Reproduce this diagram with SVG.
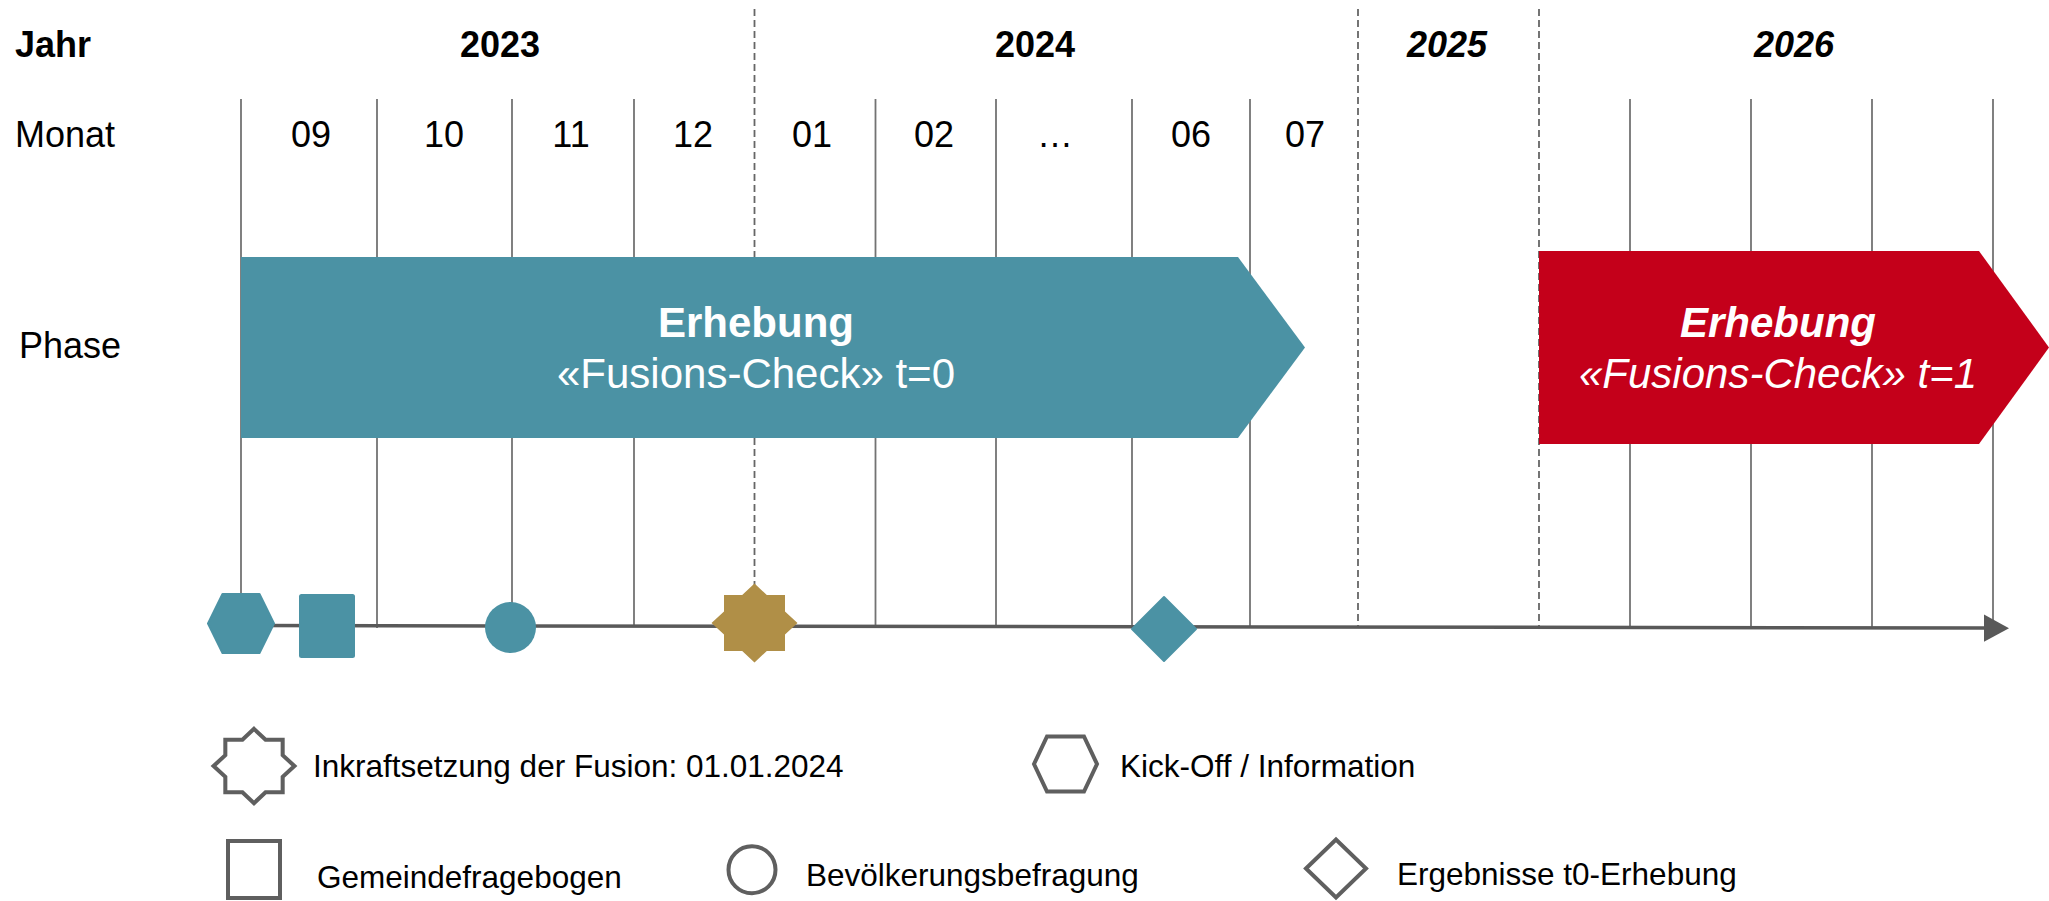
<svg xmlns="http://www.w3.org/2000/svg" width="2049" height="901" viewBox="0 0 2049 901">
<style>
  text { font-family: "Liberation Sans", Arial, sans-serif; fill: #000; }
  .hdr { font-size: 36px; }
  .yr { font-size: 36px; font-weight: bold; text-anchor: middle; }
  .mo { font-size: 36px; text-anchor: middle; }
  .bar { font-size: 42px; fill: #fff; text-anchor: middle; }
  .leg { font-size: 31.5px; }
  .vl { stroke: #737373; stroke-width: 1.8; fill: none; }
  .dl { stroke: #666; stroke-width: 1.8; stroke-dasharray: 7 4; fill: none; }
  .teal { fill: #4B92A4; }
  .lg { fill: #fff; stroke: #5f5f5f; stroke-width: 4; }
</style>
<defs>
  <polygon id="star" points="0,-39.5 12.3,-28 30.5,-28 30.5,-11.5 43,0 30.5,11.5 30.5,28 12.3,28 0,39.5 -12.3,28 -30.5,28 -30.5,11.5 -43,0 -30.5,-11.5 -30.5,-28 -12.3,-28"/>
</defs>

<g id="grid">
  <line class="vl" x1="241" y1="99" x2="241" y2="626"/>
  <line class="vl" x1="377" y1="99" x2="377" y2="628"/>
  <line class="vl" x1="512" y1="99" x2="512" y2="626"/>
  <line class="vl" x1="634" y1="99" x2="634" y2="626"/>
  <line class="vl" x1="875.5" y1="99" x2="875.5" y2="626"/>
  <line class="vl" x1="996" y1="99" x2="996" y2="626"/>
  <line class="vl" x1="1132" y1="99" x2="1132" y2="626"/>
  <line class="vl" x1="1250" y1="99" x2="1250" y2="626"/>
  <line class="vl" x1="1630" y1="99" x2="1630" y2="627"/>
  <line class="vl" x1="1751" y1="99" x2="1751" y2="627"/>
  <line class="vl" x1="1872" y1="99" x2="1872" y2="627"/>
  <line class="vl" x1="1993" y1="99" x2="1993" y2="627"/>
  <line class="dl" x1="754.5" y1="9" x2="754.5" y2="590"/>
  <line class="dl" x1="1358" y1="9" x2="1358" y2="626"/>
  <line class="dl" x1="1539" y1="9" x2="1539" y2="626"/>
</g>

<g id="labels">
  <text class="hdr" x="15" y="57" font-weight="bold">Jahr</text>
  <text class="yr" x="500" y="57">2023</text>
  <text class="yr" x="1035" y="57">2024</text>
  <text class="yr" x="1447" y="57" font-style="italic">2025</text>
  <text class="yr" x="1794" y="57" font-style="italic">2026</text>
  <text class="hdr" x="15" y="147">Monat</text>
  <text class="mo" x="311" y="147">09</text>
  <text class="mo" x="444" y="147">10</text>
  <text class="mo" x="571" y="147">11</text>
  <text class="mo" x="693" y="147">12</text>
  <text class="mo" x="812" y="147">01</text>
  <text class="mo" x="934" y="147">02</text>
  <text class="mo" x="1055" y="147">…</text>
  <text class="mo" x="1191" y="147">06</text>
  <text class="mo" x="1305" y="147">07</text>
  <text class="hdr" x="19" y="358">Phase</text>
</g>

<g id="phase-t0">
  <polygon class="teal" points="241,257 1238,257 1305,347.5 1238,438 241,438"/>
  <text class="bar" x="756" y="337" font-weight="bold">Erhebung</text>
  <text class="bar" x="756" y="388">«Fusions-Check» t=0</text>
</g>

<g id="phase-t1">
  <polygon fill="#C4001A" points="1539,251 1979,251 2049,347.5 1979,444 1539,444"/>
  <text class="bar" x="1778" y="337" font-weight="bold" font-style="italic">Erhebung</text>
  <text class="bar" x="1778" y="388" font-style="italic">«Fusions-Check» t=1</text>
</g>

<g id="connectors">
  <line x1="241" y1="625.5" x2="1986" y2="628" stroke="#595959" stroke-width="3.5"/>
  <polygon points="1984,614.5 2009,628.3 1984,641.7" fill="#595959"/>
</g>

<g id="m-kickoff">
  <polygon class="teal" stroke="#4B92A4" stroke-width="2" stroke-linejoin="round" points="208,623.5 222.5,594 259.5,594 274,623.5 259.5,653 222.5,653"/>
</g>
<g id="m-gemeinde">
  <rect class="teal" x="299" y="594" width="56" height="64" rx="2.5"/>
</g>
<g id="m-bevoelkerung">
  <circle class="teal" cx="510.5" cy="627.5" r="25.5"/>
</g>
<g id="m-fusion">
  <use href="#star" transform="translate(754.5,623)" fill="#B08F47"/>
</g>
<g id="m-ergebnisse">
  <polygon class="teal" stroke="#4B92A4" stroke-width="2" stroke-linejoin="round" points="1132,629 1164,597 1196,629 1164,661"/>
</g>

<g id="legend-fusion">
  <use href="#star" transform="translate(254,766) scale(0.94)" fill="#fff" stroke="#5f5f5f" stroke-width="4.3"/>
  <text class="leg" x="313" y="777">Inkraftsetzung der Fusion: 01.01.2024</text>
</g>
<g id="legend-kickoff">
  <polygon class="lg" points="1034,764 1047,736.5 1084,736.5 1097,764 1084,791.5 1047,791.5"/>
  <text class="leg" x="1120" y="777">Kick-Off / Information</text>
</g>
<g id="legend-gemeinde">
  <rect class="lg" x="228" y="841" width="52" height="57"/>
  <text class="leg" x="317" y="887.5">Gemeindefragebogen</text>
</g>
<g id="legend-bevoelkerung">
  <circle class="lg" cx="752" cy="869.7" r="23.5"/>
  <text class="leg" x="806" y="886">Bevölkerungsbefragung</text>
</g>
<g id="legend-ergebnisse">
  <polygon class="lg" points="1306,868.5 1336,839.5 1366,868.5 1336,897.5"/>
  <text class="leg" x="1397" y="885">Ergebnisse t0-Erhebung</text>
</g>
</svg>
